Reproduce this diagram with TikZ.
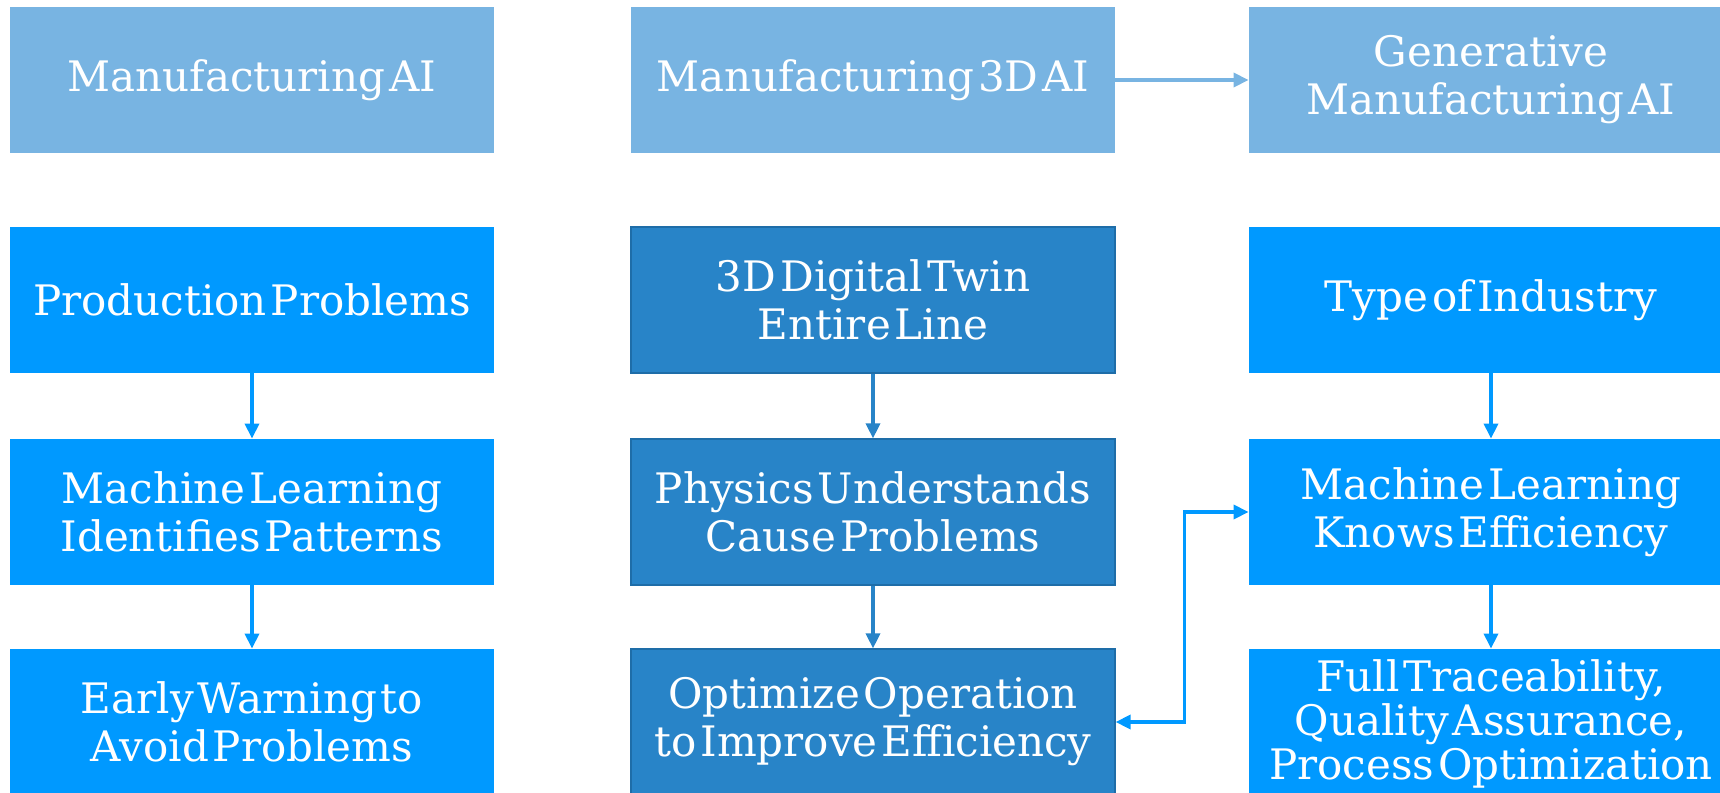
\documentclass[tikz,border=0pt]{standalone}
\usepackage{fontspec}
\setmainfont[WordSpace=0.3]{DejaVu Serif}
\usetikzlibrary{arrows.meta}
\definecolor{headblue}{HTML}{78B4E2}
\definecolor{brightblue}{HTML}{0099FF}
\definecolor{midblue}{HTML}{2884C8}
\definecolor{edgeblue}{HTML}{1E6DA8}

\begin{document}
\begin{tikzpicture}[x=0.5pt,y=-0.5pt,>={Triangle[length=7.5pt,width=7pt]},
    box/.style={minimum width=242pt,minimum height=73pt,inner sep=0pt,align=center,
      text=white,font=\fontsize{21}{24}\selectfont},
    headbox/.style={box,fill=headblue},
    brightbox/.style={box,fill=brightblue},
    midbox/.style={box,fill=midblue,draw=edgeblue,line width=0.6pt},
    flow/.style={->,line width=1.7pt}]
    \clip (0,0) rectangle (1720,793);
    % top row
    \node[headbox] (mai) at (252,80) {Manufacturing AI};
    \node[headbox] (m3d) at (873,80) {Manufacturing 3D AI};
    \node[headbox] (gen) at (1491,80) {Generative\\Manufacturing AI};
    % left column
    \node[brightbox] (prod) at (252,300) {Production Problems};
    \node[brightbox] (mlpat) at (252,512) {Machine Learning\\Identifies Patterns};
    \node[brightbox] (warn) at (252,722) {Early Warning to\\Avoid Problems};
    % middle column
    \node[midbox] (twin) at (873,300) {3D Digital Twin\\Entire Line};
    \node[midbox] (phys) at (873,512) {Physics Understands\\Cause Problems};
    \node[midbox] (optim) at (873,722) {Optimize Operation\\to Improve Efficiency};
    % right column
    \node[brightbox] (industry) at (1491,300) {Type of Industry};
    \node[brightbox] (mleff) at (1491,512) {Machine Learning\\Knows Efficiency};
    \node[brightbox,minimum height=75pt,font=\fontsize{21}{22}\selectfont] (trace) at (1491,724) {Full Traceability,\\Quality Assurance,\\Process Optimization};
    % connectors
    \draw[flow,headblue] (m3d) -- (gen);
    \draw[flow,brightblue] (prod) -- (mlpat);
    \draw[flow,brightblue] (mlpat) -- (warn);
    \draw[flow,midblue] (twin) -- (phys);
    \draw[flow,midblue] (phys) -- (optim);
    \draw[flow,brightblue] (industry) -- (mleff);
    \draw[flow,brightblue] (mleff) -- (trace);
    \draw[flow,brightblue,<->] (optim.east) -- ++(69,0) |- (mleff.west);
\end{tikzpicture}
\end{document}
